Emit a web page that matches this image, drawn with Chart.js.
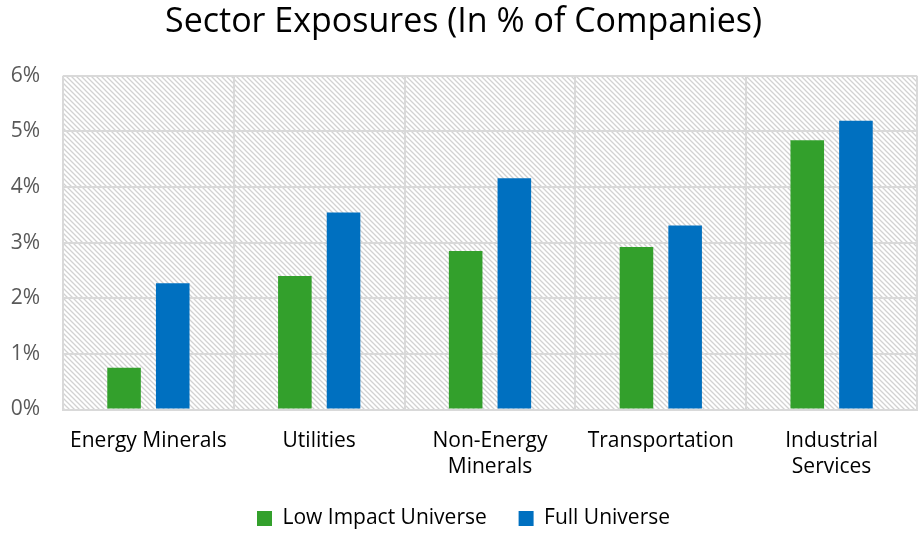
<!DOCTYPE html>
<html>
<head>
<meta charset="utf-8">
<script src="https://cdn.jsdelivr.net/npm/chart.js@4"></script>
<style>
  html, body { margin: 0; padding: 0; background: #fff; overflow: hidden; }
  #wrap { width: 918px; height: 539px; }
</style>
</head>
<body>
<!-- canvas a few px taller than the window: only the legend's bottom padding falls outside -->
<div id="wrap"><canvas id="myChart" width="918" height="539"></canvas></div>
<script>
// data
const categories = [['Energy Minerals'], ['Utilities'], ['Non-Energy', 'Minerals'], ['Transportation'], ['Industrial', 'Services']];
const lowImpact = [0.75, 2.40, 2.85, 2.92, 4.84];
const fullUniverse = [2.27, 3.54, 4.16, 3.31, 5.19];
const seriesNames = ['Low Impact Universe', 'Full Universe'];

// diagonal hatch behind the plot area
function makeHatch(ctx) {
  const c = document.createElement('canvas');
  c.width = 5; c.height = 5;
  const p = c.getContext('2d');
  p.fillStyle = '#ffffff';
  p.fillRect(0, 0, 5, 5);
  p.strokeStyle = '#d2d2d2';
  p.lineWidth = 1.3;
  p.beginPath();
  p.moveTo(-1, -1); p.lineTo(6, 6);
  p.moveTo(-6, -1); p.lineTo(1, 6);
  p.moveTo(4, -1); p.lineTo(11, 6);
  p.stroke();
  return ctx.createPattern(c, 'repeat');
}

const hatchBg = {
  id: 'hatchBg',
  beforeDraw(chart) {
    const { ctx, chartArea: a } = chart;
    ctx.save();
    ctx.fillStyle = makeHatch(ctx);
    ctx.fillRect(a.left, a.top, a.right - a.left, a.bottom - a.top);
    ctx.restore();
  }
};

let ctx = document.getElementById('myChart').getContext('2d');
new Chart(ctx, {
  type: 'bar',
  data: {
    labels: categories,
    datasets: [
      { label: seriesNames[0], data: lowImpact, backgroundColor: '#33A02C' },
      { label: seriesNames[1], data: fullUniverse, backgroundColor: '#0070C0' }
    ]
  },
  plugins: [hatchBg],
  options: {
    responsive: false,
    animation: false,
    categoryPercentage: 0.57,
    barPercentage: 0.69,
    layout: { padding: { left: 10, right: 1, top: 2, bottom: 0 } },
    plugins: {
      title: {
        display: true,
        text: 'Sector Exposures (In % of Companies)',
        color: '#000',
        font: { family: 'Open Sans', size: 34, weight: 'normal' },
        padding: { top: 0, bottom: 33 }
      },
      legend: {
        position: 'bottom',
        labels: {
          color: '#000',
          font: { family: 'Open Sans', size: 21 },
          boxWidth: 15, boxHeight: 15,
          padding: 10,
          // wider gap after the first item, like the original
          generateLabels(chart) {
            const items = Chart.defaults.plugins.legend.labels.generateLabels(chart);
            items[0].text = items[0].text + '\u00a0\u00a0\u00a0\u00a0';
            return items;
          }
        }
      },
      tooltip: false
    },
    scales: {
      x: {
        grid: { color: '#d9d9d9', lineWidth: 2, drawTicks: false },
        border: { color: '#d9d9d9', width: 2 },
        ticks: { color: '#000', font: { family: 'Open Sans', size: 21, lineHeight: 1.25 }, padding: 18 },
        afterFit(scale) {
          scale.paddingLeft = 0;
          scale.paddingRight = 0;
        }
      },
      y: {
        min: 0, max: 6,
        grid: { color: '#d9d9d9', lineWidth: 2, drawTicks: false },
        border: { display: false },
        ticks: {
          stepSize: 1,
          color: '#595959',
          font: { family: 'Open Sans', size: 21 },
          padding: 23,
          callback: v => v + '%'
        },
        // axis came out too wide on its own, fix it so the plot starts at x=63
        afterFit(scale) {
          scale.width = 53;
        }
      }
    }
  }
});
</script>
</body>
</html>
